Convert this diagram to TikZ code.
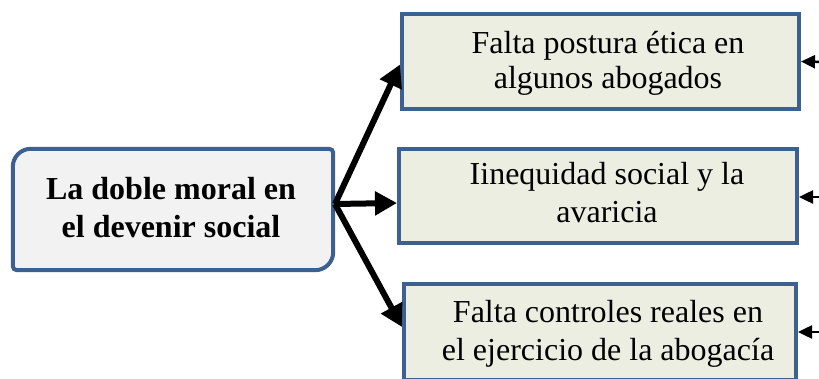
\documentclass[tikz,border=0pt]{standalone}
\usepackage{fontspec}
\setmainfont{Liberation Serif}
\usetikzlibrary{arrows.meta}
\definecolor{bordercol}{HTML}{3C6090}
\definecolor{greenfill}{HTML}{EBEEE0}
\definecolor{greyfill}{HTML}{F2F2F2}
\tikzset{
  causebox/.style={draw=bordercol, line width=4pt, fill=greenfill, rectangle, inner sep=0pt},
  boxtext/.style={align=center, inner sep=0pt, font=\fontsize{32}{38}\selectfont},
  bigarrow/.style={line width=6pt, -{Triangle[length=22pt,width=23pt]}},
  smallarrow/.style={line width=2.5pt, -{Triangle[length=14pt,width=13pt]}},
}
\begin{document}
\begin{tikzpicture}[x=1pt,y=-1pt]
\useasboundingbox (0,0) rectangle (819,379);
\clip (0,0) rectangle (819,379);

% left box
\node[rectangle, minimum width=320pt, minimum height=121pt, inner sep=0pt] (L) at (173,209.5) {};
\draw[draw=bordercol, line width=4pt, fill=greyfill]
  ([xshift=18pt]L.north west) -- ([xshift=-4pt]L.north east) arc(90:0:4pt)
  -- ([yshift=18pt]L.south east) arc(0:-90:18pt)
  -- ([xshift=4pt]L.south west) arc(270:180:4pt)
  -- ([yshift=-18pt]L.north west) arc(180:90:18pt) -- cycle;
\node[boxtext, font=\bfseries\fontsize{32}{38}\selectfont] (Lt) at (171,208) {La doble moral en\\el devenir social};

% right boxes
\node[causebox, minimum width=397pt, minimum height=95pt] (b1) at (600.5,61.5) {};
\node[causebox, minimum width=398pt, minimum height=94pt] (b2) at (598,196) {};
\node[causebox, minimum width=392pt, minimum height=96pt] (b3) at (600,332) {};

\node[boxtext, font=\fontsize{32}{35}\selectfont] (t1) at (608,63) {Falta postura ética en\\algunos abogados};
\node[boxtext] (t2) at (607,193) {Iinequidad social y la\\avaricia};
\node[boxtext] (t3) at (608,334) {Falta controles reales en\\el ejercicio de la abogacía};

% arrows from the left box
\coordinate (hub) at (335,204);
\draw[bigarrow] (hub) -- ([yshift=-3pt]b1.west);
\draw[bigarrow] (hub) -- ([yshift=-7pt]b2.west);
\draw[bigarrow] (hub) -- ([yshift=5pt]b3.west);

% incoming arrows from the right edge
\coordinate (r1) at (830,62);
\coordinate (r2) at (830,197);
\coordinate (r3) at (830,332);
\draw[smallarrow] (r1) -- (b1.east);
\draw[smallarrow] (r2) -- ([yshift=-1pt]b2.east);
\draw[smallarrow] (r3) -- (b3.east);
\end{tikzpicture}
\end{document}
